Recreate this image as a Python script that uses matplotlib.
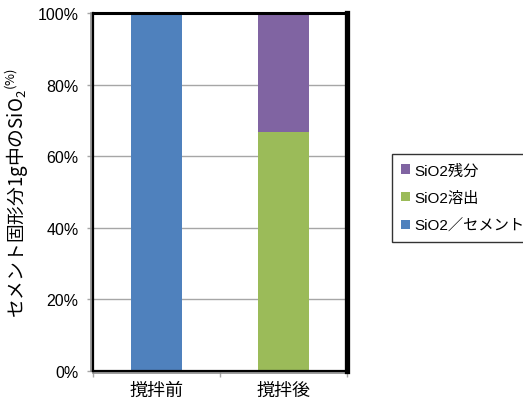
import matplotlib
matplotlib.use("Agg")
import matplotlib.pyplot as plt
from matplotlib.lines import Line2D

plt.rcParams['font.family'] = ['Liberation Sans', 'Noto Sans CJK JP', 'DejaVu Sans']
plt.rcParams['mathtext.fontset'] = 'custom'
plt.rcParams['mathtext.rm'] = 'Noto Sans CJK JP'
plt.rcParams['mathtext.it'] = 'Noto Sans CJK JP'
plt.rcParams['mathtext.bf'] = 'Noto Sans CJK JP'

# stacked shares of SiO2 before / after stirring (%)
categories = ["撹拌前", "撹拌後"]
sio2_cement = [100.0, 0.0]
sio2_dissolved = [0.0, 66.7]
sio2_residue = [0.0, 33.3]
yticks = [0, 20, 40, 60, 80, 100]

BLUE, GREEN, PURPLE = "#4F81BD", "#9BBB59", "#8064A2"

fig = plt.figure(figsize=(5.23, 4.10), dpi=100)
ax = fig.add_axes([93/523, 1-372/410, 254/523, 358/410])

x = range(len(categories))
w = 0.40
b1 = ax.bar(x, sio2_cement, w, color=BLUE, label="SiO2／セメント", zorder=3)
b2 = ax.bar(x, sio2_dissolved, w, bottom=sio2_cement, color=GREEN, label="SiO2溶出", zorder=3)
bottom3 = [a + b for a, b in zip(sio2_cement, sio2_dissolved)]
b3 = ax.bar(x, sio2_residue, w, bottom=bottom3, color=PURPLE, label="SiO2残分", zorder=3)

ax.set_xlim(-0.5, 1.5)
ax.set_ylim(0, 100)
ax.set_yticks(yticks)
ax.set_yticklabels([f"{v}%" for v in yticks], fontsize=11.5)
ax.yaxis.grid(True, color="#a6a6a6", lw=1, zorder=0)

# category ticks sit on the boundaries, labels centred under bars
ax.set_xticks([-0.5, 0.5, 1.5])
ax.set_xticklabels([])
ax.set_xticks(list(x), minor=True)
ax.set_xticklabels(categories, minor=True, fontsize=13)
ax.tick_params(axis="x", which="minor", length=0, pad=8)
ax.tick_params(axis="x", which="major", length=4.3, color="#a6a6a6", width=1)
ax.tick_params(axis="y", length=4.3, color="#a6a6a6", width=1, pad=6)

# frame: dark border with a grey shadow on left/bottom
for side, lw in [("left", 1.6), ("top", 2.2), ("right", 3.8), ("bottom", 1.6)]:
    ax.spines[side].set_color("black")
    ax.spines[side].set_linewidth(lw)
    ax.spines[side].set_zorder(5)
ax.add_line(Line2D([-0.008, -0.008], [0, 1.0], transform=ax.transAxes,
                   color="#8c8c8c", lw=1.2, clip_on=False, zorder=4))
ax.add_line(Line2D([0, 1.0], [-0.006, -0.006], transform=ax.transAxes,
                   color="#8c8c8c", lw=1.2, clip_on=False, zorder=4))

ax.set_ylabel("セメント固形分1g中のSiO$_2$$^{(\\%)}$", fontsize=13.5, labelpad=5,
              family="Noto Sans CJK JP")

leg = fig.legend(handles=[b3, b2, b1], loc="upper left",
                 bbox_to_anchor=(392/523, 1-155/410), fontsize=11,
                 frameon=True, fancybox=False, edgecolor="black",
                 handlelength=0.55, handleheight=0.55, handletextpad=0.3,
                 labelspacing=0.88, borderpad=0.6, borderaxespad=0)
leg.get_frame().set_linewidth(1.0)

fig.savefig("out.png", dpi=100)
